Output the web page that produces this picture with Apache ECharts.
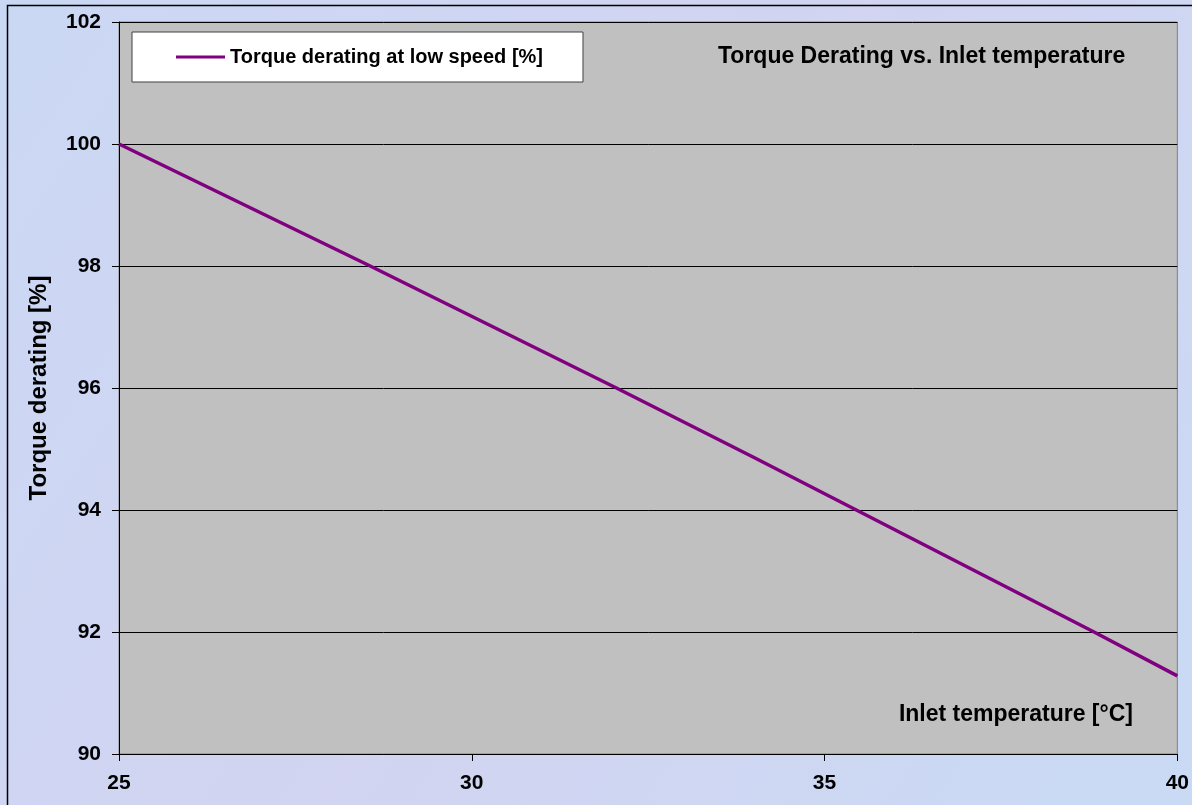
<!DOCTYPE html>
<html>
<head>
<meta charset="utf-8">
<script src="https://cdn.jsdelivr.net/npm/echarts@6/dist/echarts.min.js"></script>
<style>
html,body{margin:0;padding:0;background:#CBD5F1;}
#chart{width:1192px;height:805px;}
</style>
</head>
<body>
<div id="chart"></div>
<script>
// Data
const temperatures = [25, 28.56, 32.05, 34, 35.45, 38.82, 40];
const torqueDerating = [100, 98, 96, 94.86, 94, 92, 91.28];
const xTicks = [25, 30, 35, 40];
const yTicks = [90, 92, 94, 96, 98, 100, 102];
const seriesName = 'Torque derating at low speed [%]';
const chartTitle = 'Torque Derating vs. Inlet temperature';
const xAxisName = 'Inlet temperature [°C]';
const yAxisName = 'Torque derating [%]';

const FONT = 'Arial, "Liberation Sans", sans-serif';
const chart = echarts.init(document.getElementById('chart'));
chart.setOption({
  backgroundColor: {
    type: 'linear', x: 0, y: 0, x2: 1, y2: 1,
    colorStops: [
      {offset: 0, color: '#CAD8F4'},
      {offset: 0.5, color: '#D2D4F1'},
      {offset: 1, color: '#C9DAF4'}
    ]
  },
  animation: false,
  title: {
    text: chartTitle,
    left: 718, top: 45, padding: 0,
    textStyle: {fontFamily: FONT, fontWeight: 'bold', fontSize: 23, color: '#000'}
  },
  legend: {
    left: 132, top: 32,
    padding: [15, 40, 15, 44],
    backgroundColor: '#FFFFFF',
    borderColor: '#404040', borderWidth: 1,
    icon: 'rect',
    itemWidth: 49, itemHeight: 3,
    textStyle: {fontFamily: FONT, fontWeight: 'bold', fontSize: 20, color: '#000'},
    data: [seriesName]
  },
  grid: {
    left: 119, top: 22, right: 14, bottom: 51,
    show: true, backgroundColor: '#C0C0C0', borderColor: '#808080', borderWidth: 1,
    containLabel: false
  },
  xAxis: {
    type: 'value', min: xTicks[0], max: xTicks[xTicks.length - 1], interval: 5,
    axisLine: {show: true, lineStyle: {color: '#000', width: 1}},
    axisTick: {show: true, length: 7, lineStyle: {color: '#000'}},
    axisLabel: {fontFamily: FONT, fontWeight: 'bold', fontSize: 21, color: '#000', margin: 19,
      formatter: v => xTicks.includes(v) ? String(v) : ''},
    splitLine: {show: false}
  },
  yAxis: {
    type: 'value', min: yTicks[0], max: yTicks[yTicks.length - 1], interval: 2,
    name: yAxisName, nameLocation: 'middle', nameRotate: 90, nameGap: 68,
    nameTextStyle: {fontFamily: FONT, fontWeight: 'bold', fontSize: 24, color: '#000'},
    axisLine: {show: true, lineStyle: {color: '#000', width: 1}},
    axisTick: {show: true, length: 7, lineStyle: {color: '#000'}},
    axisLabel: {fontFamily: FONT, fontWeight: 'bold', fontSize: 21, color: '#000', margin: 18,
      formatter: v => yTicks.includes(v) ? String(v) : ''},
    splitLine: {show: true, lineStyle: {color: '#000', width: 1}}
  },
  graphic: [
    {
      type: 'text', right: 1192 - 1133, top: 703, z: 10,
      style: {text: xAxisName, font: 'bold 23px ' + FONT, fill: '#000'}
    },
    {
      type: 'rect', left: 5, top: 3, z: 100, silent: true,
      shape: {width: 1210, height: 850},
      style: {fill: 'none', stroke: '#000', lineWidth: 1.5}
    }
  ],
  series: [{
    name: seriesName,
    type: 'line',
    data: temperatures.map((t, i) => [t, torqueDerating[i]]),
    symbol: 'none',
    lineStyle: {color: '#800080', width: 3.5},
    itemStyle: {color: '#800080'}
  }]
});
</script>
</body>
</html>
